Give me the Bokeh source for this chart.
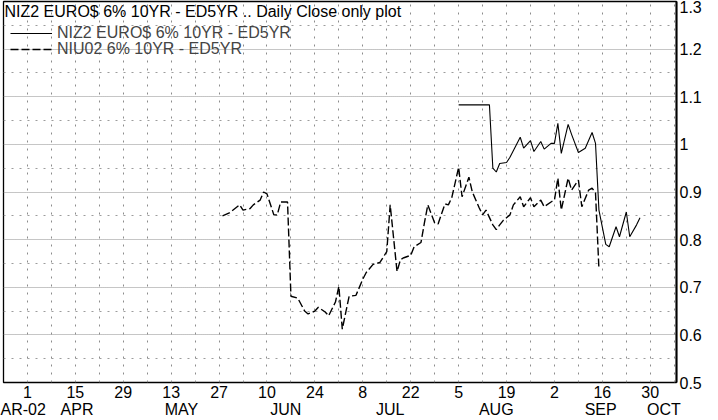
import pandas as pd
from bokeh.plotting import figure
from bokeh.models import (FixedTicker, LinearAxis, Legend, LegendItem, Label,
                          Range1d, ColumnDataSource)
from bokeh.embed import file_html
from bokeh.resources import INLINE

ORIGIN = pd.Timestamp("2002-04-01")

niz2_dates = ["2002-08-05", "2002-08-14", "2002-08-15", "2002-08-16", "2002-08-17",
              "2002-08-19", "2002-08-20", "2002-08-23", "2002-08-24", "2002-08-26",
              "2002-08-27", "2002-08-29", "2002-08-30", "2002-09-01", "2002-09-02",
              "2002-09-03", "2002-09-04", "2002-09-06", "2002-09-07", "2002-09-09",
              "2002-09-11", "2002-09-13", "2002-09-14", "2002-09-15", "2002-09-17",
              "2002-09-18", "2002-09-20", "2002-09-21", "2002-09-23", "2002-09-24",
              "2002-09-26", "2002-09-27"]
niz2_values = [1.083, 1.083, 0.950, 0.942, 0.960, 0.962, 0.973, 1.015, 0.992, 1.008,
               0.985, 1.006, 0.990, 1.002, 1.002, 1.044, 0.981, 1.042, 1.021, 0.983,
               0.992, 1.025, 1.002, 0.862, 0.790, 0.785, 0.827, 0.806, 0.858, 0.806,
               0.831, 0.846]

niu02_dates = ["2002-05-28", "2002-05-30", "2002-06-02", "2002-06-03", "2002-06-05",
               "2002-06-06", "2002-06-08", "2002-06-09", "2002-06-10", "2002-06-12",
               "2002-06-13", "2002-06-14", "2002-06-16", "2002-06-17", "2002-06-19",
               "2002-06-21", "2002-06-22", "2002-06-24", "2002-06-25", "2002-06-27",
               "2002-06-28", "2002-06-30", "2002-07-01", "2002-07-02", "2002-07-04",
               "2002-07-06", "2002-07-08", "2002-07-09", "2002-07-11", "2002-07-13",
               "2002-07-15", "2002-07-16", "2002-07-18", "2002-07-19", "2002-07-20",
               "2002-07-22", "2002-07-23", "2002-07-25", "2002-07-26", "2002-07-27",
               "2002-07-29", "2002-07-30", "2002-08-01", "2002-08-02", "2002-08-03",
               "2002-08-05", "2002-08-06", "2002-08-08", "2002-08-09", "2002-08-11",
               "2002-08-12", "2002-08-13", "2002-08-15", "2002-08-16", "2002-08-17",
               "2002-08-18", "2002-08-20", "2002-08-21", "2002-08-23", "2002-08-24",
               "2002-08-26", "2002-08-27", "2002-08-29", "2002-08-30", "2002-09-01",
               "2002-09-02", "2002-09-03", "2002-09-04", "2002-09-06", "2002-09-07",
               "2002-09-09", "2002-09-10", "2002-09-12", "2002-09-13", "2002-09-14",
               "2002-09-15"]
niu02_values = [0.850, 0.856, 0.873, 0.862, 0.865, 0.873, 0.883, 0.900, 0.896, 0.852,
                0.852, 0.879, 0.879, 0.681, 0.677, 0.650, 0.644, 0.650, 0.658, 0.648,
                0.640, 0.669, 0.702, 0.612, 0.681, 0.683, 0.717, 0.731, 0.748, 0.752,
                0.775, 0.873, 0.733, 0.758, 0.762, 0.767, 0.785, 0.794, 0.835, 0.873,
                0.835, 0.833, 0.875, 0.873, 0.888, 0.952, 0.890, 0.931, 0.900, 0.867,
                0.852, 0.862, 0.831, 0.821, 0.831, 0.840, 0.852, 0.873, 0.890, 0.869,
                0.888, 0.869, 0.883, 0.869, 0.879, 0.883, 0.929, 0.862, 0.929, 0.904,
                0.925, 0.869, 0.904, 0.908, 0.898, 0.738]

tick_dates = ["2002-04-01", "2002-04-15", "2002-04-29", "2002-05-13", "2002-05-27",
              "2002-06-10", "2002-06-24", "2002-07-08", "2002-07-22", "2002-08-05",
              "2002-08-19", "2002-09-02", "2002-09-16", "2002-09-30"]
tick_labels = ["1", "15", "29", "13", "27", "10", "24", "8", "22", "5", "19", "2", "16", "30"]

month_dates = ["2002-03-30", "2002-04-15 12:00", "2002-05-16", "2002-06-15 12:00",
               "2002-07-16", "2002-08-16", "2002-09-15 12:00", "2002-10-04"]
month_labels = ["AR-02", "APR", "MAY", "JUN", "JUL", "AUG", "SEP", "OCT"]

y_ticks = [0.5, 0.6, 0.7, 0.8, 0.9, 1.0, 1.1, 1.2, 1.3]
y_labels = ["0.5", "0.6", "0.7", "0.8", "0.9", "1", "1.1", "1.2", "1.3"]
y_minor = [0.55, 0.65, 0.75, 0.85, 0.95, 1.05, 1.15, 1.25]

title_text = "NIZ2 EURO$ 6% 10YR - ED5YR .. Daily Close only plot"
niz2_name = "NIZ2 EURO$ 6% 10YR - ED5YR"
niu02_name = "NIU02 6% 10YR - ED5YR"


def day(s):
    return (pd.Timestamp(s) - ORIGIN).total_seconds() / 86400.0


x_start = day("2002-03-25")
x_end = day("2002-10-07 16:00")
grid_days = [day(d) for d in pd.date_range("2002-03-25", "2002-10-07", freq="7D")]

FONT = "Liberation Sans"
FS = "16px"
FRAME_H = 381

p = figure(frame_width=673, frame_height=FRAME_H, output_backend="svg",
           toolbar_location=None,
           x_range=Range1d(x_start, x_end), y_range=Range1d(0.5, 1.3),
           y_axis_location="right", min_border=0)
p.min_border_top = 1
p.min_border_left = 3
p.outline_line_color = "black"
p.outline_line_width = 1.3
p.background_fill_color = "white"
p.border_fill_color = "white"

src_niz2 = ColumnDataSource(dict(x=[day(d) for d in niz2_dates], y=niz2_values))
src_niu02 = ColumnDataSource(dict(x=[day(d) for d in niu02_dates], y=niu02_values))

r1 = p.line("x", "y", source=src_niz2, line_color="black", line_width=1.1)
r2 = p.line("x", "y", source=src_niu02, line_color="black", line_width=1.4,
            line_dash="8 3")

# x axis (day numbers)
xa = p.xaxis[0]
tick_pos = [day(d) for d in tick_dates]
xa.ticker = FixedTicker(ticks=tick_pos, minor_ticks=[])
xa.major_label_overrides = {t: l for t, l in zip(tick_pos, tick_labels)}
xa.axis_line_color = None
xa.major_tick_line_color = None
xa.minor_tick_line_color = None
xa.major_tick_out = 0
xa.major_tick_in = 0
xa.minor_tick_out = 0
xa.major_label_standoff = 3
xa.major_label_text_font = FONT
xa.major_label_text_font_size = FS
xa.major_label_text_color = "black"
xa.major_label_text_line_height = 1.0

# month row
month_pos = [day(d) for d in month_dates]
ma = LinearAxis(ticker=FixedTicker(ticks=month_pos, minor_ticks=[]),
                major_label_overrides={t: l for t, l in zip(month_pos, month_labels)},
                axis_line_color=None, major_tick_line_color=None,
                minor_tick_line_color=None, major_tick_out=0, major_tick_in=0,
                minor_tick_out=0, major_label_standoff=0,
                major_label_text_font=FONT, major_label_text_font_size=FS,
                major_label_text_color="black", major_label_text_line_height=1.0)
p.add_layout(ma, "below")

# y axis on the right
ya = p.yaxis[0]
ya.ticker = FixedTicker(ticks=y_ticks, minor_ticks=y_minor)
ya.major_label_overrides = {t: l for t, l in zip(y_ticks, y_labels)}
ya.axis_line_color = "black"
ya.axis_line_width = 2
ya.major_tick_line_color = None
ya.minor_tick_line_color = None
ya.major_tick_out = 0
ya.major_tick_in = 0
ya.minor_tick_out = 0
ya.major_label_standoff = 3
ya.major_label_text_font = FONT
ya.major_label_text_font_size = FS
ya.major_label_text_color = "black"

# grids
p.xgrid.ticker = FixedTicker(ticks=grid_days, minor_ticks=[])
p.xgrid.grid_line_color = "#8c8c8c"
p.xgrid.grid_line_dash = "2 6"
p.xgrid.grid_line_width = 1
p.ygrid.grid_line_color = "#8c8c8c"
p.ygrid.grid_line_dash = "1 1"
p.ygrid.grid_line_width = 1
p.ygrid.minor_grid_line_color = "#9c9c9c"
p.ygrid.minor_grid_line_dash = "2 6"

# title inside plot area (top-left)
p.add_layout(Label(x=x_start, y=1.3, text=title_text, text_font=FONT,
                   text_font_size="16px", text_color="black",
                   text_baseline="top", x_offset=1, y_offset=-1))

legend_style = dict(padding=0, margin=0, spacing=0, glyph_width=42,
                    glyph_height=14, label_height=14, label_standoff=5,
                    label_text_font=FONT, label_text_font_size="16px",
                    label_text_line_height=0.9,
                    background_fill_alpha=0, border_line_alpha=0)
legend1 = Legend(items=[LegendItem(label=niz2_name, renderers=[r1])],
                 location=(7, FRAME_H - 41), **legend_style)
legend2 = Legend(items=[LegendItem(label=niu02_name, renderers=[r2])],
                 location=(7, FRAME_H - 57), **legend_style)
p.add_layout(legend1, "center")
p.add_layout(legend2, "center")

open("out.html", "w").write(file_html(p, INLINE))
